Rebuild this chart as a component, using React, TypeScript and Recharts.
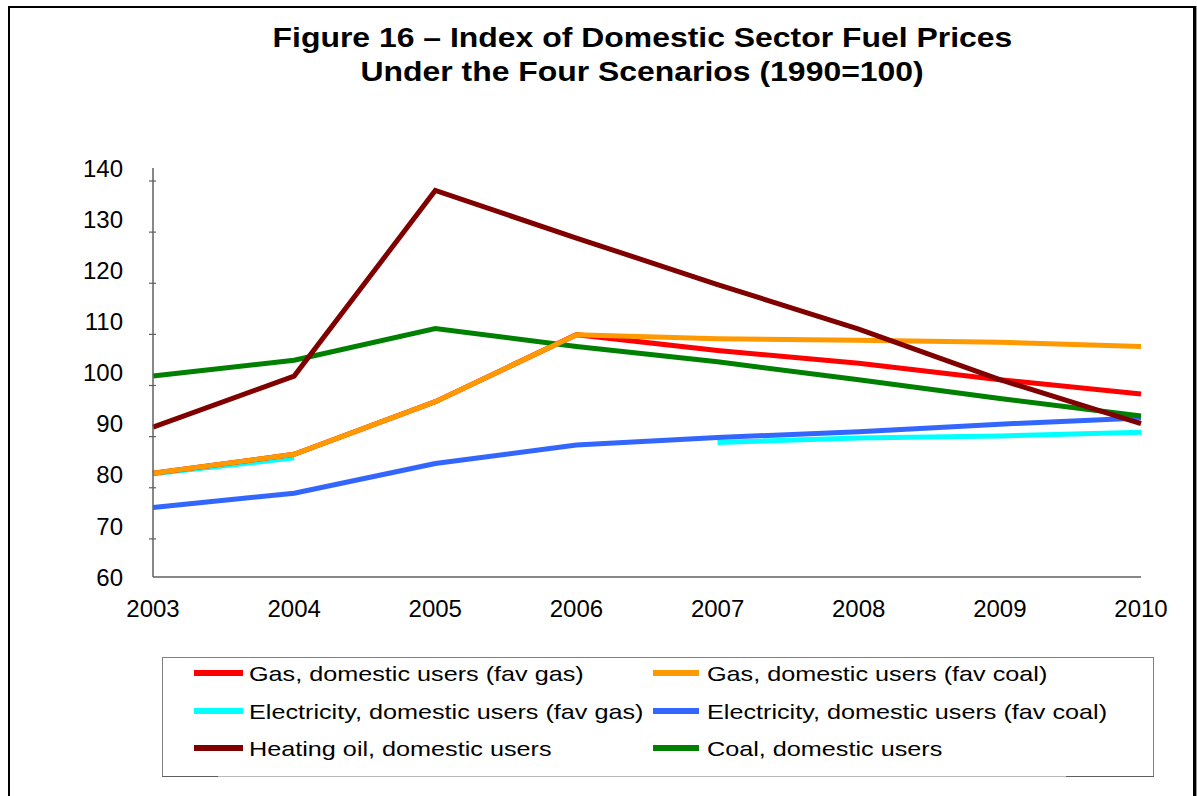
import React from "react";
import { CartesianGrid, Line, LineChart, XAxis, YAxis } from "recharts";

const years = ["2003", "2004", "2005", "2006", "2007", "2008", "2009", "2010"];
const yTicks = [60, 70, 80, 90, 100, 110, 120, 130, 140];

// index values (1990 = 100)
const gasFavGas = [80.3, 84.0, 94.3, 107.4, 104.3, 101.8, 98.6, 95.8];
const gasFavCoal = [80.3, 84.0, 94.3, 107.4, 106.6, 106.3, 105.9, 105.1];
const elecFavGas = [80.2, 83.3, null, null, 86.3, 87.2, 87.6, 88.3];
const elecFavCoal = [73.6, 76.4, 82.2, 85.8, 87.3, 88.4, 89.9, 91.1];
const heatingOil = [89.3, 99.3, 135.6, 126.3, 117.2, 108.5, 98.6, 90.0];
const coal = [99.3, 102.4, 108.6, 105.1, 102.1, 98.6, 94.9, 91.5];

const series = [
  { key: "gasFavGas", name: "Gas, domestic users (fav gas)", color: "#ff0000", values: gasFavGas },
  { key: "gasFavCoal", name: "Gas, domestic users (fav coal)", color: "#ff9900", values: gasFavCoal },
  { key: "elecFavGas", name: "Electricity, domestic users (fav gas)", color: "#00ffff", values: elecFavGas },
  { key: "elecFavCoal", name: "Electricity, domestic users (fav coal)", color: "#3366ff", values: elecFavCoal },
  { key: "heatingOil", name: "Heating oil, domestic users", color: "#800000", values: heatingOil },
  { key: "coal", name: "Coal, domestic users", color: "#008000", values: coal },
];

// order the lines are painted in (last one on top)
const drawOrder = ["elecFavGas", "elecFavCoal", "gasFavGas", "coal", "gasFavCoal", "heatingOil"];

const data = years.map((year, i) => {
  const row: Record<string, string | number | null> = { year };
  series.forEach((s) => (row[s.key] = s.values[i]));
  return row;
});

const FONT = "'Liberation Sans', Arial, Helvetica, sans-serif";
const AXIS = "#606060";

function YTick({ x, y, payload }: any) {
  return (
    <g>
      <text x={x - 30} y={y} dy="0.36em" textAnchor="end" fontSize={24} fontFamily={FONT} fill="#000">
        {payload.value}
      </text>
      {payload.value > 60 && <line x1={x - 4} x2={x + 3} y1={y + 13} y2={y + 13} stroke={AXIS} strokeWidth={1.2} />}
    </g>
  );
}

function LegendBox() {
  const rows = [0, 2, 4];
  return (
    <div
      style={{
        position: "absolute",
        left: 162,
        top: 657,
        width: 992,
        height: 120,
        boxSizing: "border-box",
        border: "1px solid #808080",
        borderBottomColor: "#b8b8b8",
        fontFamily: FONT,
        fontSize: 21,
        color: "#000",
      }}
    >
      <div style={{ position: "absolute", left: -1, bottom: -1, width: 56, height: 1, background: "#606060" }} />
      <div style={{ position: "absolute", right: -1, bottom: -1, width: 88, height: 1, background: "#606060" }} />
      {rows.map((start, r) =>
        [0, 1].map((c) => {
          const s = series[start + c];
          const left = c === 0 ? 31 : 490;
          return (
            <div
              key={s.key}
              style={{ position: "absolute", left, top: 15 * 0 + r * 37.5 - 3, height: 37.5, lineHeight: "37.5px", whiteSpace: "nowrap" }}
            >
              <span
                style={{
                  position: "absolute",
                  left: 0,
                  top: 15,
                  width: c === 0 ? 49 : 46,
                  height: 6,
                  background: s.color,
                }}
              />
              <span
                style={{
                  position: "absolute",
                  left: c === 0 ? 55 : 54,
                  top: 0,
                  display: "inline-block",
                  transform: "scaleX(1.2)",
                  transformOrigin: "left center",
                }}
              >
                {s.name}
              </span>
            </div>
          );
        })
      )}
    </div>
  );
}

export default function App() {
  return (
    <div style={{ position: "absolute", left: 0, top: 0, width: 1197, height: 796, overflow: "hidden", background: "#fff" }}>
      <div
        style={{
          position: "absolute",
          left: 8,
          top: 6,
          width: 1188,
          height: 820,
          boxSizing: "border-box",
          border: "2px solid #000",
          borderRight: "3px solid #000",
          boxShadow: "1px 0 0 #9a9a9a",
        }}
      />
      <div
        style={{
          position: "absolute",
          left: 0,
          top: 21,
          width: 1285,
          textAlign: "center",
          fontFamily: FONT,
          fontWeight: "bold",
          fontSize: 28,
          lineHeight: "34px",
          color: "#000",
        }}
      >
        <div>
          <span style={{ display: "inline-block", transform: "scaleX(1.14)" }}>
            Figure 16 – Index of Domestic Sector Fuel Prices
          </span>
        </div>
        <div>
          <span style={{ display: "inline-block", transform: "scaleX(1.14)" }}>Under the Four Scenarios (1990=100)</span>
        </div>
      </div>
      <div style={{ position: "absolute", left: 0, top: 0 }}>
        <LineChart width={1197} height={796} data={data} margin={{ top: 168, right: 56, left: 93, bottom: 179 }}>
          <CartesianGrid stroke="none" />
          <XAxis
            dataKey="year"
            tickLine={false}
            tickSize={0}
            tickMargin={23}
            axisLine={{ stroke: AXIS, strokeWidth: 1.5 }}
            tick={{ fontSize: 24, fontFamily: FONT, fill: "#000" }}
            height={40}
            interval={0}
          />
          <YAxis
            domain={[60, 140]}
            ticks={yTicks}
            width={60}
            tickLine={false}
            tickSize={0}
            tickMargin={0}
            axisLine={{ stroke: AXIS, strokeWidth: 1.5 }}
            tick={<YTick />}
            interval={0}
          />
          {drawOrder.map((k) => {
            const s = series.find((x) => x.key === k)!;
            return (
              <Line
                key={s.key}
                type="linear"
                dataKey={s.key}
                name={s.name}
                stroke={s.color}
                strokeWidth={5}
                dot={false}
                activeDot={false}
                isAnimationActive={false}
              />
            );
          })}
        </LineChart>
      </div>
      <LegendBox />
    </div>
  );
}
